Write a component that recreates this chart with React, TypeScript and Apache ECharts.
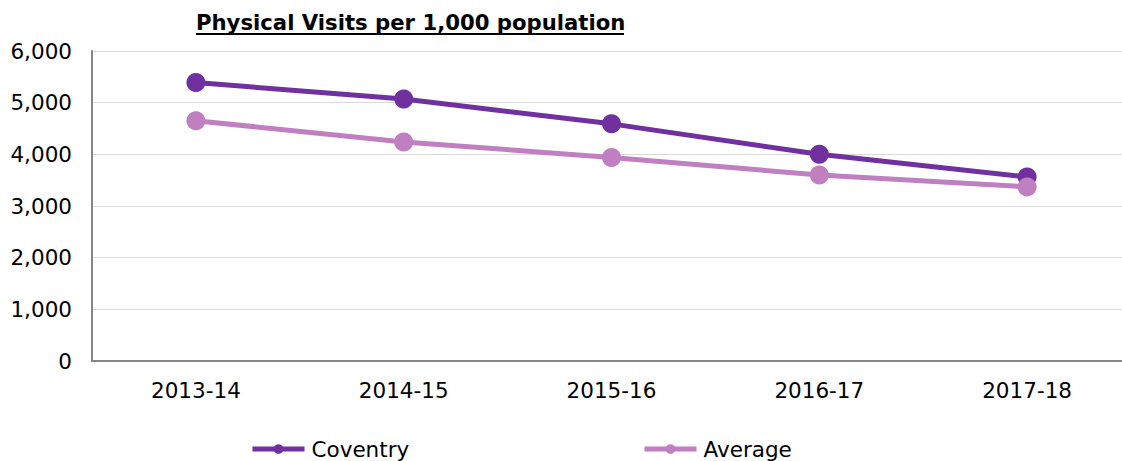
import React, { useEffect, useRef } from "react";
import * as echarts from "echarts";

const categories = ["2013-14", "2014-15", "2015-16", "2016-17", "2017-18"];
const coventry = [5390, 5070, 4590, 4000, 3560];
const average = [4650, 4240, 3940, 3600, 3370];
const yTicks = { min: 0, max: 6000, interval: 1000 };
const titleText = "Physical Visits per 1,000 population";

const FONT = "DejaVu Sans, Verdana, sans-serif";
const FS = 21.5;

export default function App() {
  const ref = useRef<HTMLDivElement>(null);
  useEffect(() => {
    const chart = echarts.init(ref.current!, null, { renderer: "svg" });
    const legendText = { fontFamily: FONT, fontSize: FS, color: "#000", lineHeight: 22, padding: [0, 0, 0, 2] };
    chart.setOption({
      animation: false,
      backgroundColor: "#ffffff",
      textStyle: { fontFamily: FONT },
      title: {
        text: titleText,
        left: 191,
        top: 6,
        textStyle: { fontFamily: FONT, fontSize: 21.2, fontWeight: "bold", color: "#000", lineHeight: 22 },
      },
      graphic: [
        {
          type: "rect",
          left: 196,
          top: 33,
          shape: { width: 428, height: 2 },
          style: { fill: "#000" },
        },
      ],
      legend: [
        {
          data: ["Coventry"],
          left: 245,
          top: 433,
          itemWidth: 52,
          itemHeight: 12,
          itemGap: 7,
          lineStyle: { width: 5 },
          textStyle: legendText,
        },
        {
          data: ["Average"],
          left: 637,
          top: 433,
          itemWidth: 52,
          itemHeight: 12,
          lineStyle: { width: 5 },
          textStyle: legendText,
        },
      ],
      grid: { left: 92, top: 51, right: 0, bottom: 100, containLabel: false },
      xAxis: {
        type: "category",
        data: categories,
        boundaryGap: true,
        axisLine: { show: true, lineStyle: { color: "#868686", width: 2 } },
        axisTick: { show: false },
        axisLabel: { fontFamily: FONT, fontSize: FS, color: "#000", margin: 18 },
      },
      yAxis: {
        type: "value",
        min: yTicks.min,
        max: yTicks.max,
        interval: yTicks.interval,
        axisLine: { show: true, lineStyle: { color: "#868686", width: 2 } },
        axisTick: { show: false },
        splitLine: { lineStyle: { color: "#d9d9d9", width: 1 } },
        axisLabel: {
          fontFamily: FONT,
          fontSize: FS,
          color: "#000",
          margin: 20,
          formatter: (v: number) => v.toLocaleString("en-US"),
        },
      },
      series: [
        {
          name: "Coventry",
          type: "line",
          data: coventry,
          symbol: "circle",
          symbolSize: 19,
          color: "#7030A0",
          lineStyle: { width: 5, color: "#7030A0" },
          itemStyle: { color: "#7030A0" },
        },
        {
          name: "Average",
          type: "line",
          data: average,
          symbol: "circle",
          symbolSize: 19,
          color: "#C07FC0",
          lineStyle: { width: 5, color: "#C07FC0" },
          itemStyle: { color: "#C07FC0" },
        },
      ],
    });
    return () => chart.dispose();
  }, []);
  return (
    <div
      style={{ position: "fixed", left: 0, top: 0, width: 1122, height: 461, overflow: "hidden" }}
    >
      <div ref={ref} style={{ width: 1131, height: 461 }} />
    </div>
  );
}
